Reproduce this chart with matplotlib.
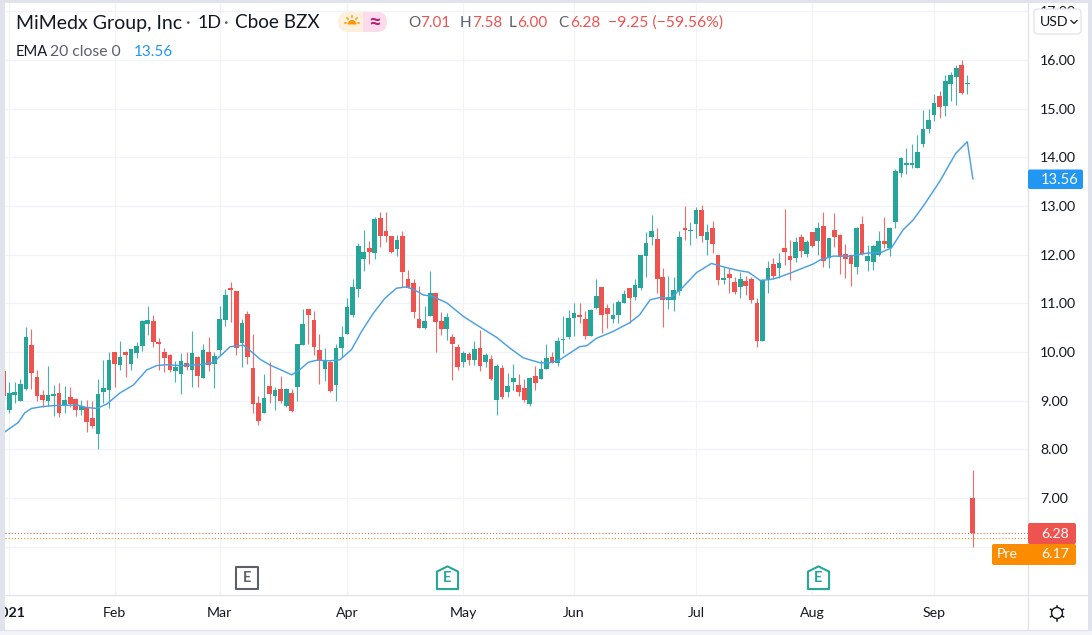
import matplotlib
matplotlib.use('Agg')
import matplotlib.pyplot as plt
from matplotlib.markers import MarkerStyle
from matplotlib.patches import FancyBboxPatch, Rectangle, Circle, Wedge
from matplotlib.path import Path

plt.rcParams['font.family'] = ['Lato', 'DejaVu Sans']

opens = [9.60,
    8.80, 9.12, 9.00, 9.25, 10.14, 9.49, 9.12, 9.00, 9.10, 9.16,
    8.90, 9.08, 9.03, 8.80, 8.87, 8.64, 8.32, 9.18, 9.22, 9.99,
    9.73, 10.00, 9.75, 9.97, 10.13, 10.58, 10.64, 10.21, 10.00, 9.94,
    9.60, 9.54, 9.77, 9.62, 9.90, 9.47, 9.99, 9.76, 10.04, 10.66,
    11.32, 11.25, 10.19, 10.78, 9.67, 8.95, 8.75, 9.30, 9.10, 9.24,
    8.89, 9.15, 9.29, 10.14, 10.88, 10.66, 10.04, 9.66, 9.80, 9.33,
    10.09, 10.38, 10.77, 11.30, 11.91, 12.13, 12.04, 12.75, 12.49, 12.38,
    12.12, 12.38, 11.51, 11.41, 10.68, 10.50, 10.74, 11.21, 10.64, 10.48,
    10.31, 10.10, 9.80, 9.96, 9.84, 10.08, 9.80, 9.86, 9.01, 9.67,
    9.17, 9.38, 9.32, 9.26, 8.94, 9.50, 9.45, 9.66, 9.89, 9.78,
    10.24, 10.31, 10.70, 10.76, 10.68, 10.33, 10.90, 11.33, 10.90, 10.68,
    10.76, 11.01, 11.31, 11.13, 11.31, 11.98, 12.36, 12.32, 11.54, 11.06,
    11.06, 11.26, 12.55, 12.49, 12.64, 12.92, 12.30, 12.55, 12.00, 11.48,
    11.60, 11.44, 11.34, 11.45, 11.51, 11.01, 10.23, 11.49, 11.81, 11.73,
    12.13, 11.97, 11.93, 12.36, 12.01, 12.47, 12.28, 12.59, 11.93, 12.50,
    12.40, 12.01, 11.99, 11.75, 12.63, 11.88, 11.84, 11.99, 12.28, 12.14,
    12.67, 13.68, 13.85, 13.85, 13.79, 14.28, 14.58, 14.86, 15.26, 15.06,
    15.51, 15.65, 15.90, 15.50, 7.01]
highs = [9.63,
    9.38, 9.38, 9.44, 10.52, 10.47, 9.63, 9.22, 9.71, 9.32, 9.37,
    9.30, 9.29, 9.05, 9.01, 9.01, 9.00, 9.44, 9.84, 9.99, 9.99,
    10.23, 10.02, 10.07, 10.21, 10.66, 10.95, 10.75, 10.28, 10.08, 9.96,
    9.81, 9.97, 10.01, 10.43, 9.92, 10.17, 10.31, 9.99, 10.95, 11.29,
    11.44, 11.25, 10.67, 10.84, 10.36, 9.10, 9.55, 9.80, 9.29, 9.51,
    9.27, 9.25, 10.16, 10.88, 10.89, 10.84, 10.38, 10.08, 9.81, 10.16,
    10.54, 11.10, 11.50, 12.23, 12.51, 12.28, 12.77, 12.87, 12.87, 12.39,
    12.41, 12.48, 11.68, 11.51, 11.36, 10.95, 11.66, 11.21, 10.82, 10.81,
    10.37, 10.16, 10.02, 9.99, 10.23, 10.45, 9.97, 9.93, 9.75, 9.73,
    9.56, 9.75, 9.55, 9.44, 9.49, 9.72, 9.84, 10.17, 10.01, 10.30,
    10.74, 10.86, 11.00, 11.00, 10.84, 10.88, 11.49, 11.33, 10.98, 11.00,
    11.07, 11.27, 11.31, 11.49, 12.00, 12.46, 12.82, 12.54, 11.72, 11.56,
    11.54, 12.48, 13.00, 12.67, 12.97, 13.02, 12.62, 12.69, 12.00, 11.75,
    11.73, 11.54, 11.64, 11.56, 11.54, 11.10, 11.50, 11.88, 11.94, 12.03,
    12.93, 12.30, 12.36, 12.42, 12.31, 12.47, 12.68, 12.87, 12.34, 12.85,
    12.42, 12.21, 12.01, 12.57, 12.79, 12.19, 12.20, 12.48, 12.77, 12.56,
    13.77, 14.00, 14.20, 14.27, 14.45, 14.97, 14.99, 15.30, 15.36, 15.69,
    15.75, 15.90, 16.00, 15.69, 7.58]
lows = [9.08,
    8.75, 8.95, 9.00, 9.22, 9.24, 9.00, 8.88, 8.89, 8.69, 8.67,
    8.74, 8.86, 8.69, 8.71, 8.36, 8.43, 8.01, 8.95, 8.84, 9.29,
    9.63, 9.49, 9.63, 9.87, 10.03, 10.35, 10.10, 9.62, 9.59, 9.59,
    9.39, 9.14, 9.62, 9.29, 9.29, 9.47, 9.60, 9.26, 9.94, 10.54,
    10.62, 9.94, 9.70, 9.75, 8.75, 8.51, 8.74, 8.96, 8.80, 8.95,
    8.86, 8.76, 9.00, 10.14, 10.17, 9.94, 9.35, 9.41, 9.17, 9.00,
    9.90, 10.37, 10.71, 11.12, 11.67, 11.81, 11.92, 12.15, 12.25, 12.03,
    11.98, 11.34, 11.31, 10.69, 10.49, 10.48, 10.74, 10.01, 10.35, 10.25,
    9.43, 9.64, 9.70, 9.73, 9.73, 9.60, 9.69, 9.43, 8.71, 9.03,
    9.07, 9.22, 9.10, 8.98, 8.90, 9.22, 9.44, 9.66, 9.77, 9.72,
    9.97, 10.27, 10.33, 10.59, 10.27, 10.33, 10.88, 10.40, 10.49, 10.60,
    10.60, 11.00, 10.60, 11.07, 11.27, 11.55, 12.20, 11.22, 10.52, 10.89,
    10.85, 11.18, 12.30, 12.19, 12.34, 12.27, 12.00, 12.03, 11.38, 11.40,
    11.22, 11.19, 11.10, 11.17, 11.00, 10.11, 10.22, 11.22, 11.51, 11.53,
    11.79, 11.48, 11.85, 11.96, 11.96, 12.16, 11.99, 11.74, 11.73, 12.15,
    11.60, 11.52, 11.35, 11.60, 11.99, 11.67, 11.68, 11.97, 12.13, 11.97,
    12.55, 13.60, 13.66, 13.79, 13.79, 14.22, 14.51, 14.75, 14.81, 14.84,
    15.15, 15.08, 15.30, 15.30, 6.00]
closes = [9.10,
    9.15, 9.18, 9.34, 10.31, 9.56, 9.10, 9.01, 9.11, 9.14, 8.75,
    9.01, 8.94, 8.81, 8.90, 8.57, 8.47, 9.14, 9.26, 9.84, 9.76,
    9.90, 9.93, 10.06, 10.12, 10.64, 10.66, 10.21, 10.17, 9.88, 9.63,
    9.69, 9.81, 9.70, 9.98, 9.51, 10.04, 9.74, 9.91, 10.67, 11.17,
    11.28, 10.08, 10.59, 9.90, 8.94, 8.59, 9.05, 9.14, 9.22, 8.99,
    9.24, 8.79, 10.16, 10.57, 10.75, 10.10, 9.84, 9.82, 9.20, 10.08,
    10.30, 10.93, 11.33, 12.18, 12.05, 12.06, 12.73, 12.39, 12.39, 12.06,
    12.30, 11.65, 11.32, 10.83, 10.50, 10.64, 11.21, 10.62, 10.48, 10.72,
    10.17, 9.69, 9.97, 9.84, 10.06, 9.72, 9.94, 9.45, 9.71, 9.08,
    9.30, 9.47, 9.17, 9.01, 9.47, 9.37, 9.65, 9.88, 9.78, 10.23,
    10.27, 10.70, 10.80, 10.72, 10.33, 10.86, 11.15, 10.77, 10.78, 10.76,
    11.03, 11.19, 11.10, 11.38, 11.99, 12.24, 12.49, 11.49, 11.06, 11.13,
    11.27, 12.36, 12.51, 12.51, 12.92, 12.39, 12.46, 12.22, 11.47, 11.52,
    11.52, 11.23, 11.49, 11.36, 11.07, 10.23, 11.47, 11.72, 11.57, 11.83,
    12.05, 11.89, 12.26, 12.07, 12.26, 12.18, 12.55, 11.87, 12.34, 12.37,
    11.96, 11.91, 11.81, 12.55, 12.01, 11.97, 12.18, 12.28, 12.22, 12.55,
    13.72, 13.99, 13.88, 13.88, 14.11, 14.58, 14.77, 15.12, 15.03, 15.57,
    15.69, 15.83, 15.32, 15.53, 6.28]

ema_bars = [0.2, 2.6, 3.8, 5.0, 7.1, 9.25, 13.2, 15.0, 16.8, 18.6, 21.0, 23.4, 25.8, 27.6,
            29.4, 31.8, 35.4, 37.8, 39.3, 40.9, 43.3, 45.1, 46.3, 48.1, 50.5, 52.0, 53.5,
            55.0, 56.5, 58.9, 60.7, 62.8, 64.6, 66.7, 68.8, 70.9, 72.8, 74.6, 75.8, 77.3,
            80.0, 83.0, 86.6, 89.0, 91.4, 93.8, 96.8, 98.6, 100.4, 104.0, 105.3, 107.0,
            110.0, 113.0, 114.8, 116.7, 118.5, 120.3, 122.7, 125.1, 127.8, 129.6, 132.4,
            134.5, 136.6, 138.4, 139.6, 142.0, 146.2, 147.4, 149.8, 152.8, 155.8, 158.5,
            160.3, 162.4, 164.2, 166.0, 169.0, 170.2, 171.9, 174.0, 175.0]
ema_vals = [8.36, 8.55, 8.75, 8.84, 8.88, 8.90, 8.91, 8.86, 8.84, 8.93, 9.16, 9.32, 9.63, 9.72,
            9.74, 9.72, 9.74, 9.78, 9.94, 10.11, 10.14, 9.97, 9.85, 9.73, 9.61, 9.53, 9.64,
            9.79, 9.83, 9.82, 9.84, 10.05, 10.42, 10.79, 11.10, 11.31, 11.34, 11.25, 11.17, 11.15,
            11.01, 10.73, 10.47, 10.30, 10.08, 9.88, 9.78, 9.78, 9.84, 10.11, 10.13, 10.28,
            10.42, 10.60, 10.76, 11.07, 11.12, 11.10, 11.34, 11.63, 11.82, 11.76, 11.68,
            11.64, 11.47, 11.49, 11.52, 11.62, 11.81, 11.89, 11.97, 11.97, 12.03, 12.05,
            12.14, 12.51, 12.71, 12.99, 13.50, 13.74, 14.08, 14.32, 13.56]

month_bars = [1, 20, 39, 62, 83, 103, 125, 146, 168]
month_labels = ['2021', 'Feb', 'Mar', 'Apr', 'May', 'Jun', 'Jul', 'Aug', 'Sep']
price_ticks = [6, 7, 8, 9, 10, 11, 12, 13, 14, 15, 16, 17]
premarket = 6.17
earnings_bars = [44, 80, 147]
earnings_colors = ['#5d606b', '#26a69a', '#26a69a']

GREEN = '#26a69a'
RED = '#ef5350'
BLUE = '#2196f3'
ORANGE = '#fb8c00'
GRID = '#f0f3fa'
LINE = '#e0e3eb'
FRAME = '#e0e3eb'
TEXT = '#131722'
GREY = '#5d606b'

W, H = 1092, 635
fig = plt.figure(figsize=(W / 100, H / 100), dpi=100, facecolor='white')

# main pane, pixel box 5..1028 x 3..595
ax = fig.add_axes([5 / W, (H - 595) / H, 1023 / W, 592 / H])
ax.set_xlim(0.224, 184.96)
ax.set_ylim(5.007, 17.171)
for s in ax.spines.values():
    s.set_visible(False)
ax.set_axisbelow(True)
ax.grid(True, color=GRID, lw=0.9)
ax.yaxis.tick_right()
ax.set_yticks(price_ticks)
# the 6.00 label sits behind the premarket badge in the original
ax.set_yticklabels(['' if p == 6 else f'{p:.2f}' for p in price_ticks], fontsize=10.2, color=TEXT)
ax.set_xticks(month_bars)
ax.set_xticklabels(month_labels, fontsize=10.2, color=TEXT)
ax.get_xticklabels()[0].set_fontweight('bold')
ax.tick_params(axis='y', length=0, pad=8.6)
ax.tick_params(axis='x', length=0, pad=8.4)

bars = list(range(len(opens)))
colors = [GREEN if c >= o else RED for o, c in zip(opens, closes)]
ax.vlines(bars, lows, highs, colors=colors, lw=0.8, alpha=0.85, zorder=2)
ax.bar(bars, [abs(c - o) for o, c in zip(opens, closes)], bottom=[min(o, c) for o, c in zip(opens, closes)],
       width=0.85, color=colors, lw=0, zorder=3)
ax.plot(ema_bars, ema_vals, color='#4aa0e6', lw=1.05, zorder=4)

ax.axhline(closes[-1], color=RED, ls=(0, (1, 2)), lw=0.75, zorder=1)
ax.axhline(premarket, color=ORANGE, ls=(0, (1, 2)), lw=0.75, zorder=1)

# earnings flags
square = MarkerStyle('s', joinstyle='round')
house = MarkerStyle(Path([(-1, -1), (-1, 0.65), (0, 1.15), (1, 0.65), (1, -1), (-1, -1)], closed=True), joinstyle='round')
for b, col in zip(earnings_bars, earnings_colors):
    shape = square if col == earnings_colors[0] else house
    size = 15.5 if shape is square else 17.5
    ax.plot([b], [5.36], marker=shape, ms=size, mfc='white', mec=col, mew=1.5, clip_on=False, zorder=5)
    ax.text(b, 5.35, 'E', color=col, fontsize=10.5, fontweight='bold', ha='center', va='center', zorder=6)

# overlay in pixels for the frame, legend and price badges
ov = fig.add_axes([0, 0, 1, 1], zorder=10)
ov.set_xlim(0, W)
ov.set_ylim(H, 0)
ov.axis('off')
ov.patch.set_alpha(0)

ov.add_patch(Rectangle((0, 0), 5, H, color=FRAME, lw=0))
ov.add_patch(Rectangle((0, 0), W, 3, color=FRAME, lw=0))
ov.add_patch(Rectangle((1088, 0), 4, H, color=FRAME, lw=0))
ov.add_patch(Rectangle((0, 631), W, 4, color='#f2f4f9', lw=0))
ov.plot([1028, 1028], [3, 630], color=LINE, lw=0.9)
ov.plot([5, 1088], [595, 595], color=LINE, lw=0.9)
ov.plot([5, 1088], [630, 630], color=LINE, lw=0.9)

# title rows
ov.text(16, 23, 'MiMedx Group, Inc', fontsize=14, color=TEXT, va='center')
ov.text(188, 23, '·', fontsize=13, color=GREY, va='center', ha='center')
ov.text(198, 23, '1D', fontsize=13, color=TEXT, va='center')
ov.text(226, 23, '·', fontsize=13, color=GREY, va='center', ha='center')
ov.text(235, 23, 'Cboe BZX', fontsize=13.6, color=TEXT, va='center')
ov.text(16, 52, 'EMA', fontsize=10.6, color=TEXT, va='center')
ov.text(50, 52, '20 close 0', fontsize=11.3, color=GREY, va='center')
ov.text(134, 52, f'{ema_vals[-1]:.2f}', fontsize=11, color=BLUE, va='center')

change = closes[-1] - closes[-2]
pct = change / closes[-2] * 100
for x, gap, letter, val in [(408, 12, 'O', opens[-1]), (460, 12, 'H', highs[-1]), (509, 8, 'L', lows[-1]), (558, 12, 'C', closes[-1])]:
    ov.text(x, 23, letter, fontsize=11, color=GREY, va='center')
    ov.text(x + gap, 23, f'{val:.2f}', fontsize=11, color=RED, va='center')
ov.text(608, 23, f'\u2212{-change:.2f} (\u2212{-pct:.2f}%)', fontsize=11.3, color=RED, va='center')

# session pill
ov.add_patch(FancyBboxPatch((338, 12), 49, 20, boxstyle='round,pad=0,rounding_size=10', fc='#fff0dd', ec='none'))
pink = FancyBboxPatch((338, 12), 49, 20, boxstyle='round,pad=0,rounding_size=10', fc='#fcdcec', ec='none')
ov.add_patch(pink)
pink.set_clip_path(Rectangle((363, 12), 24, 20, transform=ov.transData))
ov.add_patch(Wedge((352, 24.5), 4.5, 180, 360, fc='#ff9800', ec='none'))
for dx, dy in [(-7, 0), (7, 0), (-5, -5), (5, -5), (0, -7)]:
    ov.plot([352 + dx * 0.8, 352 + dx], [23 + dy * 0.8, 23 + dy], color='#ff9800', lw=1.1)
ov.text(375, 22, '\u2248', fontsize=16, color='#b5246e', ha='center', va='center', fontweight='bold')

# USD button
ov.add_patch(FancyBboxPatch((1034, 9), 47, 25, boxstyle='round,pad=0,rounding_size=4', fc='white', ec=LINE, lw=0.9))
ov.text(1040, 21.5, 'USD', fontsize=10.2, color=TEXT, va='center')
ov.plot([1071, 1074, 1077], [20.5, 23.5, 20.5], color=TEXT, lw=0.9)

# price badges
ov.add_patch(FancyBboxPatch((1028, 169.5), 55, 19.5, boxstyle='round,pad=0,rounding_size=2', fc=BLUE, ec='none', zorder=5))
ov.text(1041, 179.5, f'{ema_vals[-1]:.2f}', fontsize=10.6, color='white', va='center', zorder=6)
ov.add_patch(FancyBboxPatch((1028, 523), 48, 21, boxstyle='round,pad=0,rounding_size=2', fc=RED, ec='none', zorder=5))
ov.text(1041, 533.5, f'{closes[-1]:.2f}', fontsize=10.2, color='white', va='center', zorder=6)
ov.add_patch(FancyBboxPatch((992, 544), 84, 21, boxstyle='round,pad=0,rounding_size=2', fc=ORANGE, ec='none', zorder=5))
ov.text(997, 554.5, 'Pre', fontsize=10.2, color='white', va='center', zorder=6)
ov.text(1041, 554.5, f'{premarket:.2f}', fontsize=10.2, color='white', va='center', zorder=6)

# settings gear
ov.add_patch(Circle((1057, 613), 5.5, fc='white', ec=TEXT, lw=1))
for dx, dy in [(0, -7.5), (0, 7.5), (6.5, -3.8), (-6.5, -3.8), (6.5, 3.8), (-6.5, 3.8)]:
    ov.plot([1057 + dx * 0.75, 1057 + dx], [613 + dy * 0.75, 613 + dy], color=TEXT, lw=1.1)

fig.savefig('out.png', dpi=100, facecolor='white')
